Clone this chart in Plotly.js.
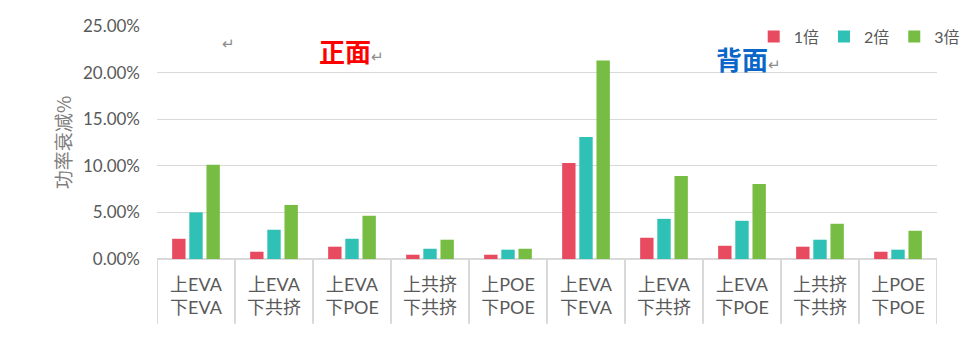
<!DOCTYPE html>
<html>
<head>
<meta charset="utf-8">
<script src="https://cdn.plot.ly/plotly-3.0.1.min.js"></script>
<style>html,body{margin:0;padding:0;background:#fff;}#chart{width:967px;height:353px;}</style>
</head>
<body>
<div id="chart"></div>
<script>
// ---- data ----
var categories = ["上EVA<br>下EVA", "上EVA<br>下共挤", "上EVA<br>下POE", "上共挤<br>下共挤", "上POE<br>下POE",
                  "上EVA<br>下EVA", "上EVA<br>下共挤", "上EVA<br>下POE", "上共挤<br>下共挤", "上POE<br>下POE"];
var seriesNames = ["1倍", "2倍", "3倍"];
var s1 = [0.0217, 0.0078, 0.0132, 0.0046, 0.0046, 0.1030, 0.0228, 0.0142, 0.0132, 0.0078];
var s2 = [0.0500, 0.0314, 0.0217, 0.0110, 0.0100, 0.1310, 0.0431, 0.0410, 0.0207, 0.0100];
var s3 = [0.1010, 0.0580, 0.0464, 0.0207, 0.0110, 0.2130, 0.0890, 0.0806, 0.0378, 0.0303];
var yTicks = [0, 0.05, 0.10, 0.15, 0.20, 0.25];

var colors = ["#E84A5F", "#2FC1B5", "#77BD43"];
var font = "Lato, 'Noto Sans CJK SC', sans-serif";
var gray = "#595959";

var xs = categories.map(function(c, i){ return i; });
var traces = [s1, s2, s3].map(function(v, k){
  return {type: "bar", x: xs, y: v, name: seriesNames[k], marker: {color: colors[k]},
          hoverinfo: "y+name"};
});

// category divider lines below axis
var shapes = [];
for (var i = 0; i <= categories.length; i++) {
  shapes.push({type: "line", xref: "x", yref: "paper", x0: i - 0.5, x1: i - 0.5,
               y0: 0, y1: -0.278, line: {color: "#D9D9D9", width: 2}});
}

var layout = {
  width: 967, height: 353,
  margin: {l: 157, r: 30, t: 26, b: 94, autoexpand: false},
  paper_bgcolor: "#fff", plot_bgcolor: "#fff",
  barmode: "group", bargap: 0.34, bargroupgap: 0.22,
  font: {family: font, color: gray, size: 16},
  xaxis: {
    type: "linear", range: [-0.5, categories.length - 0.5],
    tickmode: "array", tickvals: xs, ticktext: categories,
    showgrid: false, zeroline: false, showline: false, ticks: "",
    ticklabelstandoff: 13,
    tickfont: {size: 18, color: gray, family: font}, fixedrange: true
  },
  yaxis: {
    range: [0, 0.25], tickmode: "array", tickvals: yTicks, tickformat: ".2%",
    showgrid: true, gridcolor: "#D9D9D9", gridwidth: 1.3,
    zeroline: true, zerolinecolor: "#D9D9D9", zerolinewidth: 2,
    ticks: "", ticklabelstandoff: 16,
    tickfont: {size: 17, color: gray, family: font},
    title: {text: "功率衰减%", standoff: 6, font: {size: 19, color: "#7F7F7F", family: "'Noto Sans CJK SC', sans-serif"}},
    fixedrange: true
  },
  legend: {
    orientation: "h", x: 0.765, xanchor: "left", y: 0.955, yanchor: "middle",
    bgcolor: "rgba(0,0,0,0)", font: {size: 16, color: gray, family: font},
    itemwidth: 30, tracegroupgap: 0
  },
  shapes: shapes,
  annotations: [
    {xref: "paper", yref: "paper", x: 0.092, y: 0.925, xanchor: "center", yanchor: "middle",
     text: "↵", showarrow: false, font: {size: 15, color: "#8C8C8C"}},
    {xref: "paper", yref: "paper", x: 0.249, y: 0.893, xanchor: "center", yanchor: "middle", showarrow: false,
     text: "<b>正面</b><span style='font-size:15px;color:#8C8C8C'>↵</span>",
     font: {size: 26, color: "#FF0000", family: "'Noto Sans CJK SC', serif"}},
    {xref: "paper", yref: "paper", x: 0.758, y: 0.86, xanchor: "center", yanchor: "middle", showarrow: false,
     text: "<b>背面</b><span style='font-size:15px;color:#8C8C8C'>↵</span>",
     font: {size: 26, color: "#0A66C8", family: "'Noto Sans CJK SC', serif"}}
  ]
};

Plotly.newPlot("chart", traces, layout, {displayModeBar: false, staticPlot: true});
</script>
</body>
</html>
